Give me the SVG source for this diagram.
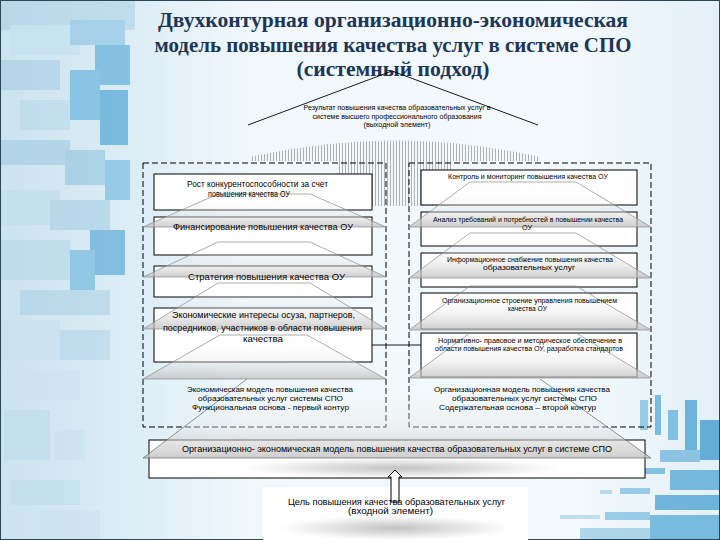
<svg xmlns="http://www.w3.org/2000/svg" width="720" height="540" viewBox="0 0 720 540">
<defs>
<style>
.t{font-family:"Liberation Sans",Arial,sans-serif;fill:#000}
.title{font-family:"Liberation Serif","Times New Roman",serif;font-weight:bold;font-size:22px;fill:#1d3658;text-anchor:middle}
.box{fill:#fff;stroke:#000;stroke-width:1}
.cont{fill:none;stroke:#000;stroke-width:1;stroke-dasharray:6 3}
.shelf{fill:url(#shelfG);stroke:#8a8a8a;stroke-width:0.7}
.ln{fill:none;stroke:#000;stroke-width:0.9}
</style>
<linearGradient id="bgG" x1="0" y1="0" x2="1" y2="0">
<stop offset="0" stop-color="#cbe3f0"/>
<stop offset="0.2" stop-color="#deeef6"/>
<stop offset="0.35" stop-color="#f1f8fc"/>
<stop offset="0.8" stop-color="#f3f9fc"/>
<stop offset="1" stop-color="#e3f0f7"/>
</linearGradient>
<linearGradient id="shelfG" x1="0" y1="0" x2="0" y2="1">
<stop offset="0" stop-color="#ffffff" stop-opacity="0"/>
<stop offset="0.6" stop-color="#e4e4e4" stop-opacity="0.4"/>
<stop offset="1" stop-color="#bdbdbd" stop-opacity="0.75"/>
</linearGradient>
<radialGradient id="shadowG" cx="0.5" cy="0.5" r="0.5">
<stop offset="0" stop-color="#999" stop-opacity="0.6"/>
<stop offset="1" stop-color="#999" stop-opacity="0"/>
</radialGradient>
<pattern id="stripes" x="0" y="0" width="3" height="10" patternUnits="userSpaceOnUse">
<rect x="0" y="0" width="1" height="10" fill="#b0b0b0"/>
</pattern>
</defs>

<!-- background -->
<rect x="0" y="0" width="720" height="540" fill="url(#bgG)"/>
<g id="texture-left" opacity="0.55">
<rect x="0" y="0" width="135" height="30" fill="#a9d0e5"/>
<rect x="10" y="25" width="70" height="30" fill="#c2dfee"/>
<rect x="70" y="20" width="55" height="25" fill="#7fbde0"/>
<rect x="95" y="45" width="35" height="40" fill="#3f9fd3"/>
<rect x="70" y="70" width="30" height="50" fill="#4aa6d8"/>
<rect x="100" y="90" width="28" height="55" fill="#2b92cc"/>
<rect x="0" y="60" width="60" height="30" fill="#a4cbe1"/>
<rect x="20" y="100" width="50" height="30" fill="#b6d7e9"/>
<rect x="0" y="140" width="70" height="25" fill="#9cc7df"/>
<rect x="65" y="150" width="40" height="35" fill="#89bfdd"/>
<rect x="105" y="160" width="25" height="40" fill="#5fb0dc"/>
<rect x="0" y="190" width="60" height="35" fill="#c0dcec"/>
<rect x="50" y="200" width="60" height="30" fill="#a2cbe2"/>
<rect x="90" y="230" width="35" height="45" fill="#3a9ad0"/>
<rect x="70" y="250" width="25" height="40" fill="#5aacd9"/>
<rect x="0" y="240" width="70" height="40" fill="#b3d5e8"/>
<rect x="20" y="290" width="90" height="25" fill="#a8cfe4"/>
<rect x="0" y="320" width="60" height="40" fill="#c6e0ee"/>
<rect x="60" y="330" width="50" height="30" fill="#b0d4e8"/>
<rect x="0" y="370" width="80" height="30" fill="#cde4f0"/>
<rect x="5" y="410" width="45" height="50" fill="#bcdaea"/>
<rect x="55" y="430" width="30" height="30" fill="#c8e1ee"/>
<rect x="10" y="480" width="70" height="25" fill="#bfdcec"/>
<rect x="40" y="510" width="60" height="30" fill="#c9e2ef"/>
</g>
<g id="texture-right" opacity="0.65">
<rect x="640" y="400" width="8" height="30" fill="#6cb6de"/>
<rect x="655" y="395" width="6" height="40" fill="#3f9fd3"/>
<rect x="668" y="410" width="10" height="30" fill="#4aa6d8"/>
<rect x="685" y="400" width="12" height="50" fill="#2b92cc"/>
<rect x="700" y="420" width="20" height="40" fill="#1f8ac6"/>
<rect x="660" y="450" width="40" height="12" fill="#5aacd9"/>
<rect x="610" y="470" width="8" height="4" fill="#8cc4e1"/>
<rect x="625" y="470" width="10" height="4" fill="#8cc4e1"/>
<rect x="645" y="468" width="20" height="6" fill="#4aa6d8"/>
<rect x="670" y="470" width="50" height="20" fill="#3a9ad0"/>
<rect x="600" y="490" width="12" height="4" fill="#9ccbe4"/>
<rect x="620" y="488" width="30" height="6" fill="#6cb6de"/>
<rect x="655" y="495" width="65" height="15" fill="#2f94cd"/>
<rect x="560" y="515" width="40" height="4" fill="#a6d0e6"/>
<rect x="605" y="512" width="45" height="8" fill="#6cb6de"/>
<rect x="650" y="515" width="70" height="25" fill="#3f9fd3"/>
<rect x="580" y="528" width="70" height="12" fill="#8cc4e1"/>
</g>
<rect x="0.5" y="0.5" width="719" height="539" fill="none" stroke="#2d4656" stroke-width="1"/>

<!-- title -->
<g id="title">
<text class="title" x="393" y="27" textLength="470" lengthAdjust="spacingAndGlyphs">Двухконтурная организационно-экономическая</text>
<text class="title" x="393" y="52" textLength="477" lengthAdjust="spacingAndGlyphs">модель повышения качества услуг в системе СПО</text>
<text class="title" x="393" y="76" textLength="193" lengthAdjust="spacingAndGlyphs">(системный подход)</text>
</g>

<!-- columns (stripes) -->
<path d="M250 161 L250 157 Q395 124 540 157 L540 161 L452 161 L452 206 L338 206 L338 161 Z" fill="url(#stripes)"/>

<!-- roof -->
<g id="roof">
<polyline class="ln" points="248,125 392,71 538,125"/>
<text class="t" font-size="7" text-anchor="middle" x="397" y="110" textLength="187" lengthAdjust="spacingAndGlyphs">Результат повышения качества образовательных услуг в</text>
<text class="t" font-size="7" text-anchor="middle" x="397" y="118.5" textLength="169" lengthAdjust="spacingAndGlyphs">системе высшего профессионального образования</text>
<text class="t" font-size="7" text-anchor="middle" x="397" y="127" textLength="67" lengthAdjust="spacingAndGlyphs">(выходной элемент)</text>
</g>

<!-- containers -->
<rect id="contour-left" class="cont" x="143" y="163" width="243" height="264"/>
<rect id="contour-right" class="cont" x="409" y="163" width="242" height="264"/>

<!-- boxes -->
<g id="L1"><rect class="box" x="154" y="174" width="218" height="36"/></g>
<g id="L2"><rect class="box" x="154" y="217" width="218" height="38"/></g>
<g id="L3"><rect class="box" x="154" y="266" width="218" height="31"/></g>
<g id="L4"><rect class="box" x="154" y="308" width="218" height="54"/></g>
<g id="R1"><rect class="box" x="421" y="170" width="216" height="35"/></g>
<g id="R2"><rect class="box" x="421" y="212" width="216" height="34"/></g>
<g id="R3"><rect class="box" x="421" y="253" width="216" height="34"/></g>
<g id="R4"><rect class="box" x="421" y="293" width="216" height="36"/></g>
<g id="R5"><rect class="box" x="421" y="333" width="216" height="44"/></g>
<g id="model"><rect class="box" x="149" y="440" width="496" height="38"/></g>
<g id="goal"><rect x="263" y="487" width="265" height="53" fill="#fff"/></g>

<!-- shelves -->
<g id="shelves">
<polygon class="shelf" points="218,194 310,194 386,227 143,227"/>
<polygon class="shelf" points="218,242 310,242 386,277 143,277"/>
<polygon class="shelf" points="218,283 310,283 386,329 143,329"/>
<polygon class="shelf" points="220,335 307,335 386,379 143,379"/>
<polygon class="shelf" points="470,182 576,182 651,227 409,227"/>
<polygon class="shelf" points="470,233 576,233 651,278 409,278"/>
<polygon class="shelf" points="470,286 576,286 651,330 409,330"/>
<polygon class="shelf" points="470,333 576,333 651,378 409,378"/>
<polygon points="247,379 540,379 651,458 143,458" fill="url(#shelfG)"/>
<polyline points="247,379 143,458 651,458 540,379" fill="none" stroke="#666" stroke-width="0.7"/>
<ellipse cx="400" cy="468" rx="160" ry="10" fill="url(#shadowG)"/>
<ellipse cx="395" cy="528" rx="115" ry="12" fill="url(#shadowG)"/>
</g>

<!-- connectors -->
<g id="connectors">
<line class="ln" x1="372" y1="345" x2="421" y2="345"/>
<polygon points="391,502 391,477 388,477 395,470 402,477 399,477 399,502" fill="#fff" stroke="#000" stroke-width="1"/>
</g>

<!-- texts -->
<g id="texts-left" class="t">
<text font-size="8.5" x="187" y="187" textLength="141" lengthAdjust="spacingAndGlyphs">Рост конкурентоспособности за счет</text>
<text font-size="8.5" x="208" y="197" textLength="82" lengthAdjust="spacingAndGlyphs">повышения качества ОУ</text>
<text font-size="9" x="173" y="230" textLength="180" lengthAdjust="spacingAndGlyphs">Финансирование повышения качества ОУ</text>
<text font-size="9" x="188" y="280" textLength="157" lengthAdjust="spacingAndGlyphs">Стратегия повышения качества ОУ</text>
<text font-size="8.5" x="172" y="318" textLength="183" lengthAdjust="spacingAndGlyphs">Экономические интересы осуза, партнеров,</text>
<text font-size="8.5" x="163" y="331" textLength="199" lengthAdjust="spacingAndGlyphs">посредников, участников в области повышения</text>
<text font-size="8.5" x="243" y="342" textLength="40" lengthAdjust="spacingAndGlyphs">качества</text>
<text font-size="8" x="187" y="392" textLength="166" lengthAdjust="spacingAndGlyphs">Экономическая модель повышения качества</text>
<text font-size="8" x="198" y="401" textLength="145" lengthAdjust="spacingAndGlyphs">образовательных услуг системы СПО</text>
<text font-size="8" x="192" y="410" textLength="157" lengthAdjust="spacingAndGlyphs">Функциональная основа  - первый контур</text>
</g>
<g id="texts-right" class="t">
<text font-size="7.5" x="448" y="179" textLength="160" lengthAdjust="spacingAndGlyphs">Контроль и мониторинг повышения качества ОУ</text>
<text font-size="7.5" x="433" y="222" textLength="190" lengthAdjust="spacingAndGlyphs">Анализ требований и потребностей в повышении качества</text>
<text font-size="7.5" x="522" y="229.5" textLength="10" lengthAdjust="spacingAndGlyphs">ОУ</text>
<text font-size="7.5" x="447" y="262" textLength="166" lengthAdjust="spacingAndGlyphs">Информационное снабжение повышения качества</text>
<text font-size="7.5" x="483" y="270" textLength="92" lengthAdjust="spacingAndGlyphs">образовательных услуг</text>
<text font-size="7.5" x="442" y="303" textLength="175" lengthAdjust="spacingAndGlyphs">Организационное строение управления повышением</text>
<text font-size="7.5" x="508" y="311" textLength="39" lengthAdjust="spacingAndGlyphs">качества ОУ</text>
<text font-size="7.5" x="438" y="343" textLength="184" lengthAdjust="spacingAndGlyphs">Нормативно- правовое  и методическое обеспечение в</text>
<text font-size="7.5" x="435" y="351" textLength="188" lengthAdjust="spacingAndGlyphs">области повышения качества ОУ, разработка стандартов</text>
<text font-size="8" x="434" y="392" textLength="176" lengthAdjust="spacingAndGlyphs">Организационная модель повышения качества</text>
<text font-size="8" x="452" y="401" textLength="145" lengthAdjust="spacingAndGlyphs">образовательных услуг системы СПО</text>
<text font-size="8" x="439" y="410" textLength="157" lengthAdjust="spacingAndGlyphs">Содержательная основа – второй контур</text>
</g>
<g id="texts-bottom" class="t">
<text font-size="9" x="182" y="452" textLength="430" lengthAdjust="spacingAndGlyphs">Организационно- экономическая модель повышения качества образовательных услуг в системе СПО</text>
<text font-size="9" x="288" y="505" textLength="217" lengthAdjust="spacingAndGlyphs">Цель повышения качества образовательных услуг</text>
<text font-size="9" x="348" y="513.5" textLength="85" lengthAdjust="spacingAndGlyphs">(входной элемент)</text>
</g>
</svg>
